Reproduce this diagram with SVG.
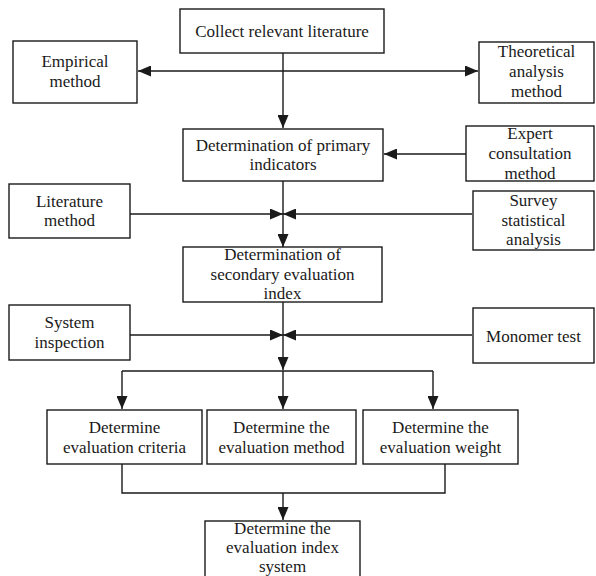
<svg xmlns="http://www.w3.org/2000/svg" width="596" height="576" viewBox="0 0 596 576">
<style>
rect{fill:#fff;stroke:#1a1a1a;stroke-width:1.4}
text{font-size:17px;fill:#1a1a1a;text-anchor:middle}
.c path{fill:none;stroke:#1a1a1a;stroke-width:1.4}
.c path.a{marker-end:url(#ah)}
</style>
<defs>
<marker id="ah" markerUnits="userSpaceOnUse" markerWidth="13" markerHeight="11" refX="13" refY="5.5" orient="auto">
<path d="M0,0 L13,5.5 L0,11 z" fill="#1a1a1a"/>
</marker>
</defs>
<rect x="0" y="0" width="596" height="576" style="stroke:none"/>
<g class="c" id="connectors">
<path class="a" d="M283,53 V128"/>
<path class="a" d="M283,71 H138"/>
<path class="a" d="M283,71 H478"/>
<path class="a" d="M466,154 H384"/>
<path class="a" d="M130,214 H283"/>
<path class="a" d="M472,214 H283"/>
<path class="a" d="M283,181 V247"/>
<path class="a" d="M130,335 H283"/>
<path class="a" d="M472,335 H283"/>
<path class="a" d="M283,302 V370"/>
<path d="M122,371 H433"/>
<path class="a" d="M122,371 V409"/>
<path class="a" d="M283,371 V409"/>
<path class="a" d="M433,371 V409"/>
<path d="M122,464 V493 H445 V464"/>
<path class="a" d="M283,493 V520"/>
</g>
<g id="nodes" font-family="Liberation Serif, Times New Roman, DejaVu Serif, serif">
<g id="collect"><rect x="180" y="9" width="204" height="44"/><text x="282" y="37">Collect relevant literature</text></g>
<g id="empirical"><rect x="13" y="41" width="124" height="62"/><text x="75" y="67">Empirical</text><text x="75" y="87">method</text></g>
<g id="theoretical"><rect x="479" y="42" width="115" height="61"/><text x="536.5" y="57">Theoretical</text><text x="536.5" y="77">analysis</text><text x="536.5" y="97">method</text></g>
<g id="primary"><rect x="183" y="129" width="200" height="52"/><text x="283" y="151">Determination of primary</text><text x="283" y="170">indicators</text></g>
<g id="expert"><rect x="466" y="126" width="128" height="55"/><text x="530" y="139">Expert</text><text x="530" y="159">consultation</text><text x="530" y="179">method</text></g>
<g id="literature"><rect x="9" y="184" width="121" height="54"/><text x="69.5" y="207">Literature</text><text x="69.5" y="226">method</text></g>
<g id="survey"><rect x="473" y="191" width="121" height="59"/><text x="533.5" y="206">Survey</text><text x="533.5" y="226">statistical</text><text x="533.5" y="245">analysis</text></g>
<g id="secondary"><rect x="183" y="247" width="199" height="55"/><text x="282.5" y="260">Determination of</text><text x="282.5" y="280">secondary evaluation</text><text x="282.5" y="299">index</text></g>
<g id="system"><rect x="9" y="305" width="121" height="55"/><text x="69.5" y="328">System</text><text x="69.5" y="348">inspection</text></g>
<g id="monomer"><rect x="473" y="308" width="121" height="55"/><text x="533.5" y="342">Monomer test</text></g>
<g id="criteria"><rect x="47" y="410" width="155" height="54"/><text x="124.5" y="433">Determine</text><text x="124.5" y="453">evaluation criteria</text></g>
<g id="method"><rect x="207" y="410" width="149" height="54"/><text x="281.5" y="433">Determine the</text><text x="281.5" y="453">evaluation method</text></g>
<g id="weight"><rect x="363" y="410" width="155" height="54"/><text x="440.5" y="433">Determine the</text><text x="440.5" y="453">evaluation weight</text></g>
<g id="final"><rect x="205" y="521" width="155" height="62"/><text x="282.5" y="534">Determine the</text><text x="282.5" y="553">evaluation index</text><text x="282.5" y="572">system</text></g>
</g>
</svg>
